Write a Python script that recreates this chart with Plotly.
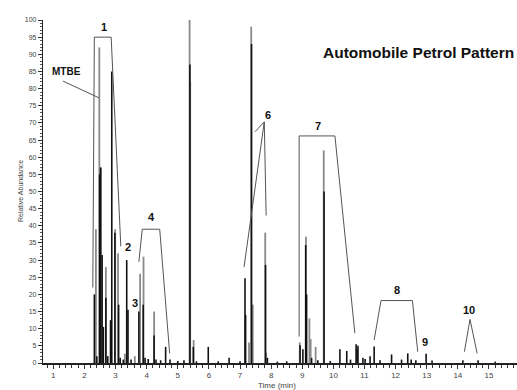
import plotly.graph_objects as go

# ---- data: retention time (min) and relative abundance (%) ----
black_times = [2.32, 2.40, 2.49, 2.52, 2.57, 2.61, 2.69, 2.75, 2.84, 2.88, 2.98, 3.10, 3.15, 3.25,
               3.36, 3.40, 3.50, 3.75, 3.89, 3.95, 4.05, 4.24, 4.30, 4.45, 4.61, 4.75, 5.00, 5.20,
               5.39, 5.50, 5.60, 5.98, 6.30, 6.65, 7.00, 7.16, 7.18, 7.37, 7.82, 7.88, 8.20, 8.50,
               8.93, 9.02, 9.11, 9.14, 9.30, 9.50, 9.70, 9.90, 10.21, 10.43, 10.55, 10.73, 10.76,
               10.79, 10.95, 11.02, 11.18, 11.31, 11.50, 11.87, 12.19, 12.39, 12.50, 12.65, 12.98,
               13.17, 14.16, 14.65, 15.20]
black_heights = [20, 2, 55, 57, 31.5, 10.5, 19, 2, 12.5, 85, 38, 17, 1.5, 1,
                 30, 15.5, 1, 15, 17, 1.5, 1.2, 8, 1, 0.8, 4.7, 1, 0.6, 0.8,
                 87, 4.7, 0.5, 4.7, 0.5, 1.5, 0.5, 24.7, 14, 93, 28.6, 1.5, 0.4, 0.5,
                 5.2, 4, 34.4, 20, 1.5, 0.8, 50, 0.6, 4, 3.5, 1, 5.5, 4,
                 5, 1.5, 1.2, 2, 4.8, 0.8, 2.5, 1, 2.8, 1, 0.8, 2.7,
                 0.7, 0.8, 0.8, 0.4]

gray_times = [2.37, 2.48, 2.53, 2.69, 2.99, 3.08, 3.30, 3.62, 3.79, 3.90, 4.24,
              5.38, 5.40, 5.51, 7.29, 7.36, 7.41, 7.81, 7.84, 8.92, 9.12, 9.23, 9.27, 9.43, 9.69]
gray_heights = [39, 92, 57, 28, 39, 32, 2.7, 2, 26, 31, 15,
                100, 82, 6.7, 6, 98, 17, 38, 3, 6, 36.8, 13, 7, 4.7, 62]

# group brackets (time, abundance vertices)
brackets = {
    "1": ([2.27, 2.32, 2.86, 3.17], [22, 95, 95, 34]),
    "4": ([3.75, 3.86, 4.42, 4.74], [29.5, 39, 39, 2.8]),
    "6a": ([7.48, 7.78, 7.13], [67.4, 70.3, 28]),
    "6b": ([7.78, 7.84], [70.3, 43]),
    "7": ([8.90, 8.90, 10.05, 10.69], [7.7, 66.2, 66.2, 8.7]),
    "8": ([11.31, 11.53, 12.54, 12.71], [6.7, 18.2, 18.2, 3.3]),
    "10": ([14.21, 14.39, 14.62], [3.3, 12.7, 2.8]),
    "mtbe": ([1.31, 2.47], [82.2, 77.3]),
}

label_text = ["1", "MTBE", "2", "3", "4", "5", "6", "7", "8", "9", "10"]
label_t = [2.63, 1.42, 3.39, 3.62, 4.16, 5.58, 7.89, 9.51, 12.03, 12.94, 14.37]
label_v = [98, 85.1, 33.9, 17.6, 42.7, 100.6, 72.3, 69.1, 21.3, 6.2, 15.5]

x_ticks = list(range(1, 16))
y_ticks = list(range(0, 101, 5))


def spikes(ts, hs):
    xs, ys = [], []
    for t, h in zip(ts, hs):
        xs += [t, t, None]
        ys += [0, h, None]
    return xs, ys


fig = go.Figure()
gx, gy = spikes(gray_times, gray_heights)
fig.add_trace(go.Scatter(x=gx, y=gy, mode="lines", line=dict(color="#8a8a8a", width=1.8),
                         hoverinfo="skip", showlegend=False))
bx, by = spikes(black_times, black_heights)
fig.add_trace(go.Scatter(x=bx, y=by, mode="lines", line=dict(color="#111111", width=1.6),
                         hoverinfo="skip", showlegend=False))
for name, (bxs, bys) in brackets.items():
    fig.add_trace(go.Scatter(x=bxs, y=bys, mode="lines", line=dict(color="#555555", width=1),
                             hoverinfo="skip", showlegend=False))

for txt, t, v in zip(label_text, label_t, label_v):
    fig.add_annotation(x=t, y=v, text=f"<b>{txt}</b>", showarrow=False,
                       font=dict(size=11 if txt != "MTBE" else 10, color="#111",
                                 family="Liberation Sans, Arial"))

fig.add_annotation(xref="paper", yref="paper", x=0.587, y=0.904, xanchor="left", yanchor="middle",
                   text="<b>Automobile Petrol Pattern</b>", showarrow=False,
                   font=dict(size=15.5, color="#111", family="Liberation Sans, Arial"))
fig.add_annotation(xref="paper", yref="paper", x=-0.059, y=0.5, textangle=-90,
                   text="Relative Abundance", showarrow=False,
                   font=dict(size=7, color="#444", family="Liberation Sans, Arial"))
fig.add_annotation(xref="paper", yref="paper", x=0.494, y=-0.067, yanchor="middle",
                   text="Time (min)", showarrow=False,
                   font=dict(size=8, color="#444", family="Liberation Sans, Arial"))

fig.update_layout(
    width=517, height=390,
    margin=dict(l=43, r=0, t=20, b=27),
    paper_bgcolor="white", plot_bgcolor="white",
    font=dict(family="Liberation Sans, Arial", size=7, color="#444"),
    xaxis=dict(range=[0.67, 15.9], tickvals=x_ticks, ticktext=[str(v) for v in x_ticks],
               showgrid=False, zeroline=False, showline=True, linecolor="#222", linewidth=1.5,
               ticks="outside", ticklen=4, tickcolor="#333", tickfont=dict(size=8),
               minor=dict(dtick=0.2, ticks="outside", ticklen=3, tickcolor="#333")),
    yaxis=dict(range=[0, 100], tickvals=y_ticks, ticktext=[str(v) for v in y_ticks],
               showgrid=False, zeroline=False, showline=True, linecolor="#222", linewidth=1.2,
               ticks="outside", ticklen=4, tickcolor="#333", tickfont=dict(size=7),
               minor=dict(dtick=1, ticks="outside", ticklen=2, tickcolor="#555")),
)

fig.write_html("out.html", config={"displayModeBar": False},
               post_script="document.body.style.margin='0';document.body.style.overflow='hidden';")
